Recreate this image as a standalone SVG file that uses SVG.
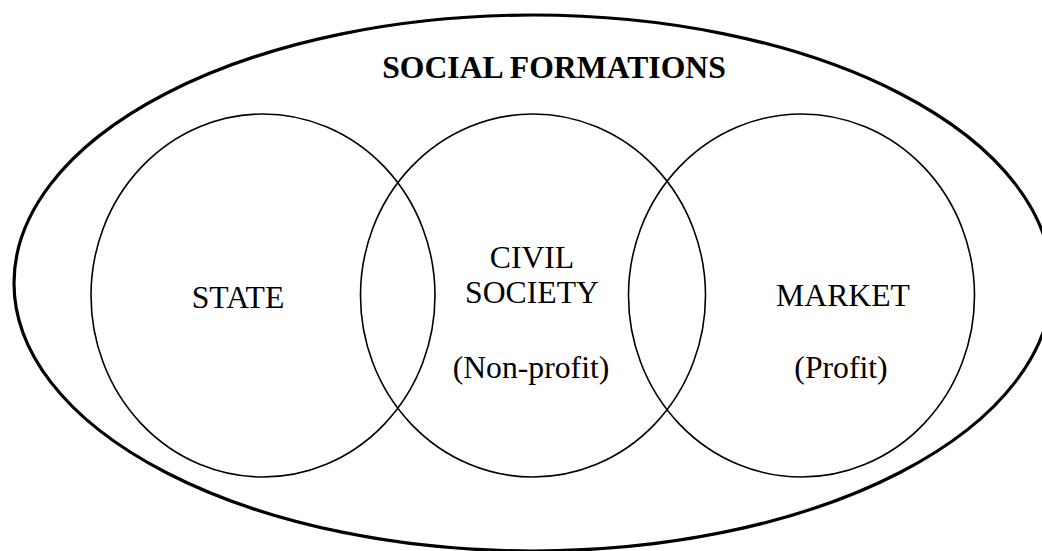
<svg xmlns="http://www.w3.org/2000/svg" width="1042" height="551" viewBox="0 0 1042 551">
<style>
.bg{fill:#ffffff}
.outer{fill:none;stroke:#000;stroke-width:3.2}
.ring{fill:none;stroke:#000;stroke-width:1.6}
.lbl{font-family:"Liberation Serif","Times New Roman",serif;font-size:31.7px;fill:#000;text-anchor:middle}
.title{font-weight:bold}
</style>
<rect class="bg" x="0" y="0" width="1042" height="551"/>
<g id="social-formations">
<ellipse class="outer" cx="533" cy="283" rx="519" ry="268"/>
<text class="lbl title" x="554" y="78">SOCIAL FORMATIONS</text>
</g>
<g id="state">
<ellipse class="ring" cx="263" cy="295.5" rx="172" ry="181.5"/>
<text class="lbl" x="238" y="308">STATE</text>
</g>
<g id="civil-society">
<ellipse class="ring" cx="533" cy="295.5" rx="172.5" ry="181.5"/>
<text class="lbl" x="532" y="268">CIVIL</text>
<text class="lbl" x="532" y="303">SOCIETY</text>
<text class="lbl" x="531" y="378">(Non-profit)</text>
</g>
<g id="market">
<ellipse class="ring" cx="801.5" cy="295.5" rx="173" ry="181.5"/>
<text class="lbl" x="843" y="306">MARKET</text>
<text class="lbl" x="841" y="378">(Profit)</text>
</g>
<g id="connectors"/>
</svg>
